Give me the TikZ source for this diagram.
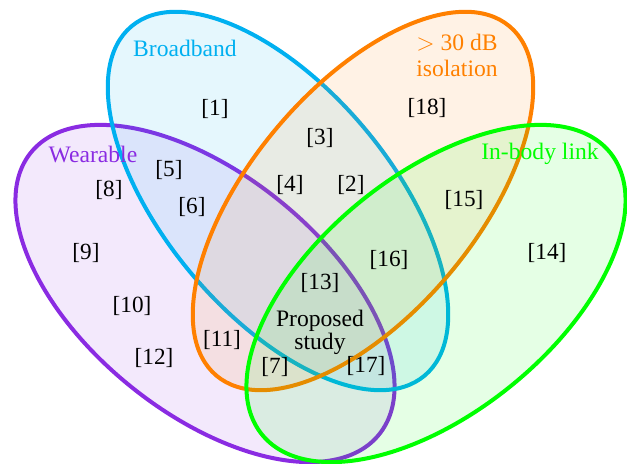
\documentclass[tikz,border=0pt]{standalone}
\usepackage{fontspec}
\setmainfont{Liberation Serif}
\definecolor{cpurple}{RGB}{138,43,226}
\definecolor{cblue}{RGB}{0,176,240}
\definecolor{corange}{RGB}{255,128,0}
\definecolor{cgreen}{RGB}{0,255,0}
\tikzset{
  setshape/.style={draw=#1, fill=#1, fill opacity=0.1, draw opacity=1, line width=2pt},
  lab/.style={inner sep=0pt, font=\fontsize{11.6}{13}\selectfont, text=black},
  title/.style={inner sep=0pt, font=\fontsize{11.8}{13}\selectfont, text=#1, align=center}
}
\begin{document}
\begin{tikzpicture}[x=0.5pt,y=0.5pt]
\useasboundingbox (0,0) rectangle (627,464);
% sets
\draw[setshape=cpurple, rotate around={-39:(205,170.5)}] (205,170.5) ellipse [x radius=224, y radius=119];
\draw[setshape=cblue, rotate around={-50:(278,263)}] (278,263) ellipse [x radius=228, y radius=113];
\draw[setshape=corange, rotate around={50:(363,263)}] (363,263) ellipse [x radius=228, y radius=113];
\draw[setshape=cgreen, rotate around={39:(436,170.5)}] (436,170.5) ellipse [x radius=224, y radius=119];
% titles
\node[title=cblue] (tbroad) at (185,416) {Broadband};
\node[title=cpurple] (twear) at (93,309) {Wearable};
\node[title=corange] (tiso) at (457,409) {$>$ 30 dB\\isolation};
\node[title=cgreen] (tbody) at (540,310) {In-body link};
% labels
\node[lab] (r1) at (215,355) {[1]};
\node[lab] (r3) at (320,326) {[3]};
\node[lab] (r18) at (427,356) {[18]};
\node[lab] (r5) at (169,294) {[5]};
\node[lab] (r8) at (109,274) {[8]};
\node[lab] (r4) at (290,279) {[4]};
\node[lab] (r2) at (351,279) {[2]};
\node[lab] (r6) at (192,257) {[6]};
\node[lab] (r15) at (464,264) {[15]};
\node[lab] (r9) at (86,211) {[9]};
\node[lab] (r16) at (389,204) {[16]};
\node[lab] (r14) at (547,211) {[14]};
\node[lab] (r13) at (320,181) {[13]};
\node[lab] (r10) at (132,158) {[10]};
\node[lab, align=center, font=\fontsize{11.8}{11.5}\selectfont] (prop) at (320,132) {Proposed\\study};
\node[lab] (r11) at (222,124) {[11]};
\node[lab] (r12) at (154,106) {[12]};
\node[lab] (r7) at (275,97) {[7]};
\node[lab] (r17) at (366,98) {[17]};
\end{tikzpicture}
\end{document}
